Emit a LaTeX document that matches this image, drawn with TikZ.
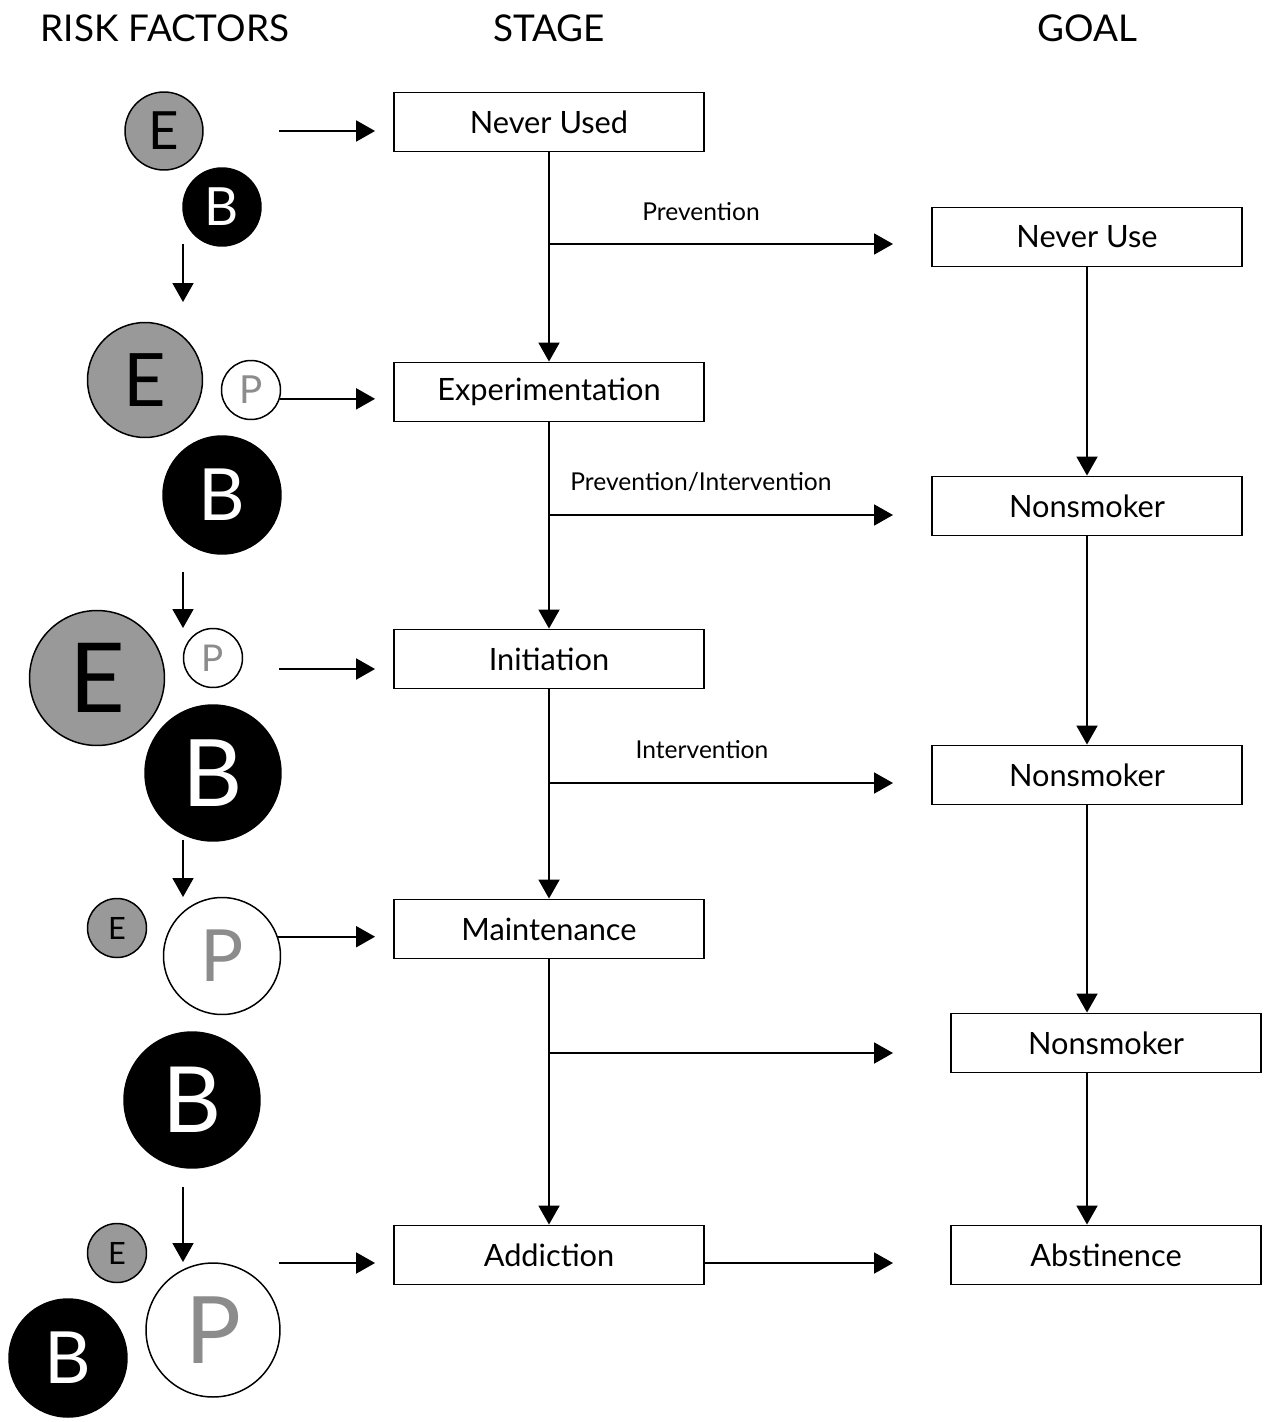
\documentclass[tikz,border=0pt]{standalone}
\usepackage{fontspec}
\setmainfont{Lato}
\usetikzlibrary{arrows.meta,positioning,calc}

\begin{document}
\begin{tikzpicture}[x=0.02cm, y=-0.02cm,
    stagebox/.style={draw, line width=1.1pt, minimum width=6.2cm, minimum height=1.18cm, inner sep=0pt, font=\fontsize{17.5pt}{20pt}\selectfont},
    head/.style={font=\fontsize{21pt}{24pt}\selectfont},
    lab/.style={font=\fontsize{14pt}{16pt}\selectfont},
    flow/.style={-{Triangle[length=0.38cm,width=0.42cm]}, line width=1.1pt},
    lead/.style={flow, shorten >=0.36cm},
    fac/.style={circle, draw, line width=0.85pt, inner sep=0pt, minimum size=#1},
    efac/.style={fac=#1, fill=black!40, text=black},
    bfac/.style={fac=#1, fill=black, text=white},
    pfac/.style={fac=#1, fill=white, text=black!45},
    fsz/.style={font=\fontsize{#1pt}{#1pt}\selectfont}]

\useasboundingbox (0,0) rectangle (1267,1422);

% column headings
\node[head] (hrisk) at (165,28) {RISK FACTORS};
\node[head] (hstage) at (549,28) {STAGE};
\node[head] (hgoal) at (1087,28) {GOAL};

% stages
\node[stagebox] (s1) at (549,122) {Never Used};
\node[stagebox] (s2) at (549,392) {Experimentation};
\node[stagebox] (s3) at (549,659) {Initiation};
\node[stagebox] (s4) at (549,929) {Maintenance};
\node[stagebox] (s5) at (549,1255) {Addiction};

% goals
\node[stagebox] (g1) at (1087,237) {Never Use};
\node[stagebox] (g2) at (1087,506) {Nonsmoker};
\node[stagebox] (g3) at (1087,775) {Nonsmoker};
\node[stagebox] (g4) at (1106,1043) {Nonsmoker};
\node[stagebox] (g5) at (1106,1255) {Abstinence};

% risk factors
\node[efac=1.56cm, fsz=30] (e1) at (164,131) {E};
\node[bfac=1.56cm, fsz=30] (b1) at (222,207) {B};

\node[efac=2.3cm, fsz=42] (e2) at (145,380) {E};
\node[pfac=1.18cm, fsz=22] (p2) at (251,390) {P};
\node[bfac=2.36cm, fsz=41] (b2) at (222,495) {B};

\node[efac=2.7cm, fsz=55] (e3) at (97,678) {E};
\node[pfac=1.18cm, fsz=21] (p3) at (213,658) {P};
\node[bfac=2.72cm, fsz=53] (b3) at (213,773) {B};

\node[efac=1.18cm, fsz=17.5] (e4) at (117,928) {E};
\node[pfac=2.34cm, fsz=41] (p4) at (222,956) {P};
\node[bfac=2.72cm, fsz=52] (b4) at (192,1100) {B};

\node[efac=1.18cm, fsz=17.5] (e5) at (117,1253) {E};
\node[pfac=2.68cm, fsz=53] (p5) at (213,1330) {P};
\node[bfac=2.36cm, fsz=41] (b5) at (68,1358) {B};

% free ends
\coordinate (l1) at (279,131);
\coordinate (l3) at (279,669);
\coordinate (l5) at (279,1263);
\coordinate (d1) at (183,244);  \coordinate (d1e) at (183,302);
\coordinate (d2) at (183,572);  \coordinate (d2e) at (183,628);
\coordinate (d3) at (183,840);  \coordinate (d3e) at (183,897);
\coordinate (d4) at (183,1187); \coordinate (d4e) at (183,1262);
\coordinate (k1) at (549,244);  \coordinate (k1e) at (893,244);
\coordinate (k2) at (549,515);  \coordinate (k2e) at (893,515);
\coordinate (k3) at (549,783);  \coordinate (k3e) at (893,783);
\coordinate (k4) at (549,1053); \coordinate (k4e) at (893,1053);
\coordinate (k5e) at (893,1263);

% factors into stages
\draw[lead] (l1) -- (l1 -| s1.west);
\draw[lead] (p2.-17) -- (p2.-17 -| s2.west);
\draw[lead] (l3) -- (l3 -| s3.west);
\draw[lead] (p4.19) -- (p4.19 -| s4.west);
\draw[lead] (l5) -- (l5 -| s5.west);

\draw[flow] (d1) -- (d1e);
\draw[flow] (d2) -- (d2e);
\draw[flow] (d3) -- (d3e);
\draw[flow] (d4) -- (d4e);

% stage line
\draw[flow] (s1) -- (s2);
\draw[flow] (s2) -- (s3);
\draw[flow] (s3) -- (s4);
\draw[flow] (s4) -- (s5);

\draw[flow] (k1) -- (k1e);
\draw[flow] (k2) -- (k2e);
\draw[flow] (k3) -- (k3e);
\draw[flow] (k4) -- (k4e);
\draw[flow] ([yshift=-0.16cm]s5.east) -- (k5e);

\node[lab] (t1) at (701,212) {Prevention};
\node[lab] (t2) at (701,482) {Prevention/Intervention};
\node[lab] (t3) at (702,750) {Intervention};

% goal line
\draw[flow] (g1) -- (g2);
\draw[flow] (g2) -- (g3);
\draw[flow] (g3.south) -- (g3.south |- g4.north);
\draw[flow] (g3.south |- g4.south) -- (g3.south |- g5.north);
\end{tikzpicture}
\end{document}
